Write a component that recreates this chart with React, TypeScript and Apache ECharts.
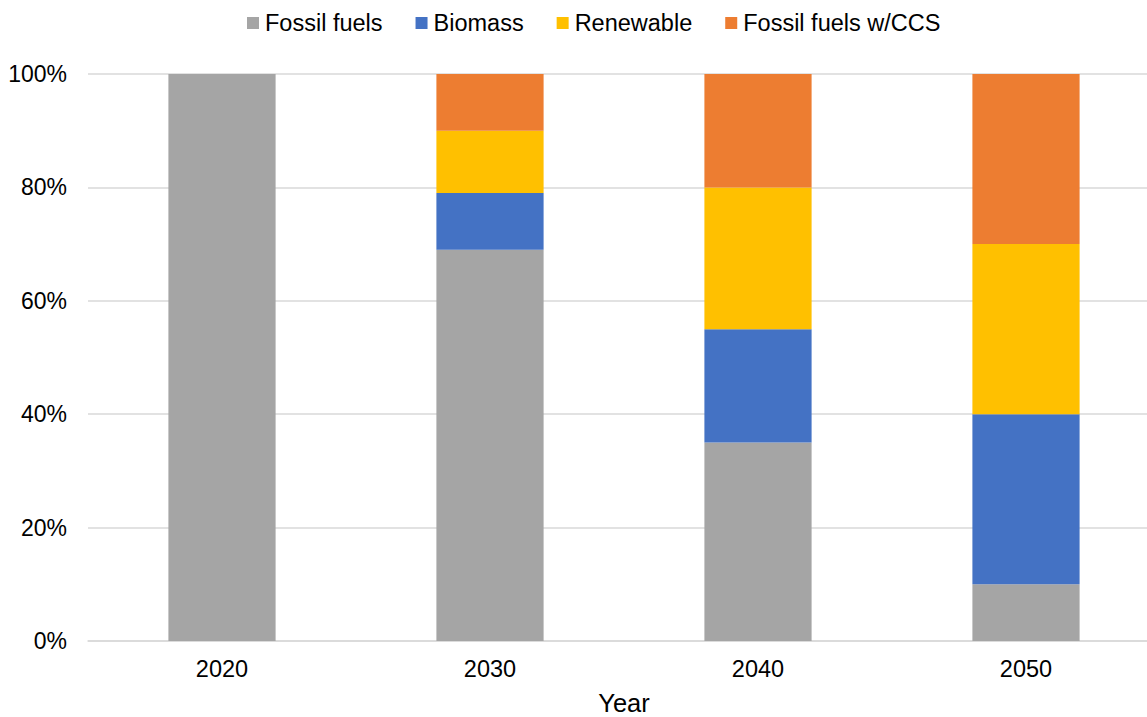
import React, { useEffect, useRef } from "react";
import * as echarts from "echarts";

const years = ["2020", "2030", "2040", "2050"];
const fossil = [100, 69, 35, 10];
const biomass = [0, 10, 20, 30];
const renewable = [0, 11, 25, 30];
const fossilCCS = [0, 10, 20, 30];
const yTicks = [0, 20, 40, 60, 80, 100];

const FONT = "'Liberation Sans', Arial, sans-serif";

export default function App() {
  const ref = useRef<HTMLDivElement>(null);
  useEffect(() => {
    if (!ref.current) return;
    const chart = echarts.init(ref.current, undefined, { renderer: "svg" });
    const mk = (name: string, data: number[], color: string) => ({
      name,
      type: "bar",
      stack: "total",
      data,
      barWidth: "40%",
      itemStyle: { color },
      emphasis: { disabled: true },
    });
    chart.setOption({
      animation: false,
      textStyle: { fontFamily: FONT },
      legend: {
        top: 6,
        left: 242,
        itemWidth: 12,
        itemHeight: 12,
        itemGap: 33,
        icon: "rect",
        textStyle: { fontSize: 23.5, color: "#000", fontFamily: FONT, padding: [0, 0, 0, 1] },
        data: ["Fossil fuels", "Biomass", "Renewable", "Fossil fuels w/CCS"],
      },
      grid: { left: 88, top: 74, bottom: 76, width: 1072, outerBoundsMode: "none", containLabel: false },
      xAxis: {
        type: "category",
        data: years,
        name: "Year",
        nameLocation: "middle",
        nameGap: 52,
        nameMoveOverlap: false,
        nameTextStyle: { fontSize: 25.5, lineHeight: 20, color: "#000", fontFamily: FONT },
        axisLine: { lineStyle: { color: "#d9d9d9", width: 1.5 } },
        axisTick: { show: false },
        axisLabel: { fontSize: 23.5, color: "#000", margin: 16, fontFamily: FONT },
      },
      yAxis: {
        type: "value",
        min: yTicks[0],
        max: yTicks[yTicks.length - 1],
        interval: 20,
        axisLine: { show: false },
        axisTick: { show: false },
        axisLabel: {
          fontSize: 23,
          color: "#000",
          margin: 21,
          fontFamily: FONT,
          formatter: (v: number) => v + "%",
        },
        splitLine: { lineStyle: { color: "#d9d9d9", width: 1.5 } },
      },
      series: [
        mk("Fossil fuels", fossil, "#a5a5a5"),
        mk("Biomass", biomass, "#4472c4"),
        mk("Renewable", renewable, "#ffc000"),
        mk("Fossil fuels w/CCS", fossilCCS, "#ed7d31"),
      ],
    });
    return () => chart.dispose();
  }, []);
  return (
    <div
      ref={ref}
      style={{ position: "fixed", left: 0, top: 0, width: 1147, height: 717, background: "#fff" }}
    />
  );
}
